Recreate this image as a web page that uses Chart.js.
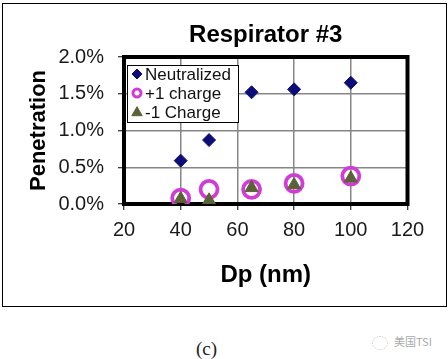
<!DOCTYPE html>
<html>
<head>
<meta charset="utf-8">
<script src="https://cdn.jsdelivr.net/npm/chart.js@4/dist/chart.umd.min.js"></script>
<style>
  body { margin: 0; background: #fff; width: 448px; height: 359px; position: relative; overflow: hidden; }
  #frame { position: absolute; left: 2px; top: 3px; width: 443px; height: 302px; border: 1px solid #000; }
  #cap { position: absolute; left: 196px; top: 338px; font: 19px "Liberation Serif", "DejaVu Serif", serif; color: #222; }
  #mark { position: absolute; left: 372px; top: 333px; font: 11px "Noto Sans CJK SC", sans-serif; color: #aaa; }
  #mark .ico { display: inline-block; width: 14px; height: 12px; border: 1px dotted #ccc; border-radius: 50%; vertical-align: middle; margin-right: 6px; }
</style>
</head>
<body>
<div id="frame"><canvas id="chart" width="443" height="302"></canvas></div>
<div id="cap">(c)</div>
<div id="mark"><span class="ico"></span>美国TSI</div>
<script>
// Particle diameter (nm)
const dp = [40, 50, 65, 80, 100];
// Penetration (%)
const neutralized = [0.59, 0.87, 1.52, 1.56, 1.65];
const plusOne = [0.08, 0.20, 0.20, 0.28, 0.38];
const minusOne = [0.07, 0.05, 0.22, 0.26, 0.35];

const seriesLabels = ['Neutralized', '+1 charge', '-1 Charge'];
const xTicks = [20, 40, 60, 80, 100, 120];
const yTicks = [0, 0.5, 1.0, 1.5, 2.0];

const FONT = 'Arial, "Liberation Sans", sans-serif';

function toPoints(ys) {
    return dp.map((x, i) => ({ x: x, y: ys[i] }));
}

// center the chart title over the plot area, like Excel does
const titleOverPlot = {
    id: 'titleOverPlot',
    afterLayout(chart) {
        if (chart.titleBlock) {
            chart.titleBlock.left = chart.chartArea.left;
            chart.titleBlock.right = chart.chartArea.right;
        }
    }
};

// thick frame round the plot area, drawn under the markers
const plotFrame = {
    id: 'plotFrame',
    beforeDatasetsDraw(chart) {
        const a = chart.chartArea;
        const ctx = chart.ctx;
        ctx.save();
        ctx.strokeStyle = '#000';
        ctx.lineWidth = 4;
        ctx.strokeRect(a.left, a.top, a.right - a.left, a.bottom - a.top);
        ctx.restore();
    }
};

// boxed legend inside the plot, top-left
const boxLegend = {
    id: 'boxLegend',
    afterDatasetsDraw(chart) {
        const a = chart.chartArea;
        const ctx = chart.ctx;
        const bx = a.left + 3, by = a.top + 8, bw = 111, bh = 57;
        ctx.save();
        ctx.fillStyle = '#fff';
        ctx.fillRect(bx, by, bw, bh);
        ctx.strokeStyle = '#000';
        ctx.lineWidth = 1;
        ctx.strokeRect(bx + 0.5, by + 0.5, bw, bh);
        const rows = [9, 28, 47.7];
        const marks = [
            { pointStyle: 'rectRot', radius: 5, backgroundColor: '#0d0d78', borderColor: '#0d0d78', borderWidth: 1 },
            { pointStyle: 'circle', radius: 4, backgroundColor: 'rgba(0,0,0,0)', borderColor: '#d23cd6', borderWidth: 3 },
            { pointStyle: 'triangle', radius: 6, backgroundColor: '#5c6237', borderColor: '#5c6237', borderWidth: 1 }
        ];
        ctx.font = '17px ' + FONT;
        ctx.textBaseline = 'middle';
        chart.data.datasets.forEach((ds, i) => {
            const cy = by + rows[i];
            ctx.fillStyle = marks[i].backgroundColor;
            ctx.strokeStyle = marks[i].borderColor;
            ctx.lineWidth = marks[i].borderWidth;
            Chart.helpers.drawPoint(ctx, marks[i], bx + 10, cy);
            ctx.fillStyle = '#111';
            ctx.fillText(ds.label, bx + 18, cy + 1);
        });
        ctx.restore();
    }
};

const ctx = document.getElementById('chart').getContext('2d');
new Chart(ctx, {
    type: 'scatter',
    data: {
        datasets: [{
            label: seriesLabels[0],
            data: toPoints(neutralized),
            pointStyle: 'rectRot',
            pointRadius: 6.5,
            backgroundColor: '#0d0d78',
            borderColor: '#0d0d78',
            borderWidth: 1,
            order: 3
        }, {
            label: seriesLabels[1],
            data: toPoints(plusOne),
            pointStyle: 'circle',
            pointRadius: 8.5,
            backgroundColor: 'rgba(0,0,0,0)',
            borderColor: '#d23cd6',
            borderWidth: 3.8,
            order: 2
        }, {
            label: seriesLabels[2],
            data: toPoints(minusOne),
            pointStyle: 'triangle',
            pointRadius: 7.5,
            backgroundColor: '#5c6237',
            borderColor: '#5c6237',
            borderWidth: 1,
            order: 1
        }]
    },
    options: {
        responsive: false,
        animation: false,
        devicePixelRatio: 1,
        layout: { padding: { left: 0, right: 38.5, top: 0, bottom: 0 } },
        plugins: {
            legend: { display: false },
            tooltip: { enabled: false },
            title: {
                display: true,
                text: 'Respirator #3',
                color: '#000',
                font: { family: FONT, size: 24, weight: 'bold', lineHeight: 1.2 },
                padding: { top: 17, bottom: 7.2 }
            }
        },
        scales: {
            x: {
                type: 'linear',
                min: 20,
                max: 120,
                afterBuildTicks: s => { s.ticks = xTicks.map(v => ({ value: v })); },
                afterFit: s => { s.height = 102; },
                border: { display: false },
                grid: { color: '#868686', lineWidth: 1.5, drawTicks: true, tickLength: 6, tickColor: '#000', tickWidth: 1 },
                ticks: { color: '#1a1a1a', font: { family: FONT, size: 20 }, padding: 8, maxRotation: 0 },
                title: {
                    display: true,
                    text: 'Dp (nm)',
                    color: '#000',
                    font: { family: FONT, size: 24, weight: 'bold', lineHeight: 1.2 },
                    padding: { top: 0, bottom: 16.6 }
                }
            },
            y: {
                type: 'linear',
                min: 0,
                max: 2,
                afterBuildTicks: s => { s.ticks = yTicks.map(v => ({ value: v })); },
                afterFit: s => { s.width = 121; },
                border: { display: false },
                grid: { color: '#868686', lineWidth: 1.5, drawTicks: true, tickLength: 6, tickColor: '#000', tickWidth: 1 },
                ticks: { color: '#1a1a1a', font: { family: FONT, size: 20 }, padding: 14, callback: v => v.toFixed(1) + '%' },
                title: {
                    display: true,
                    text: 'Penetration',
                    color: '#000',
                    font: { family: FONT, size: 22, weight: 'bold', lineHeight: 1.2 },
                    padding: { top: 23, bottom: 0 }
                }
            }
        }
    },
    plugins: [titleOverPlot, plotFrame, boxLegend]
});
</script>
</body>
</html>
